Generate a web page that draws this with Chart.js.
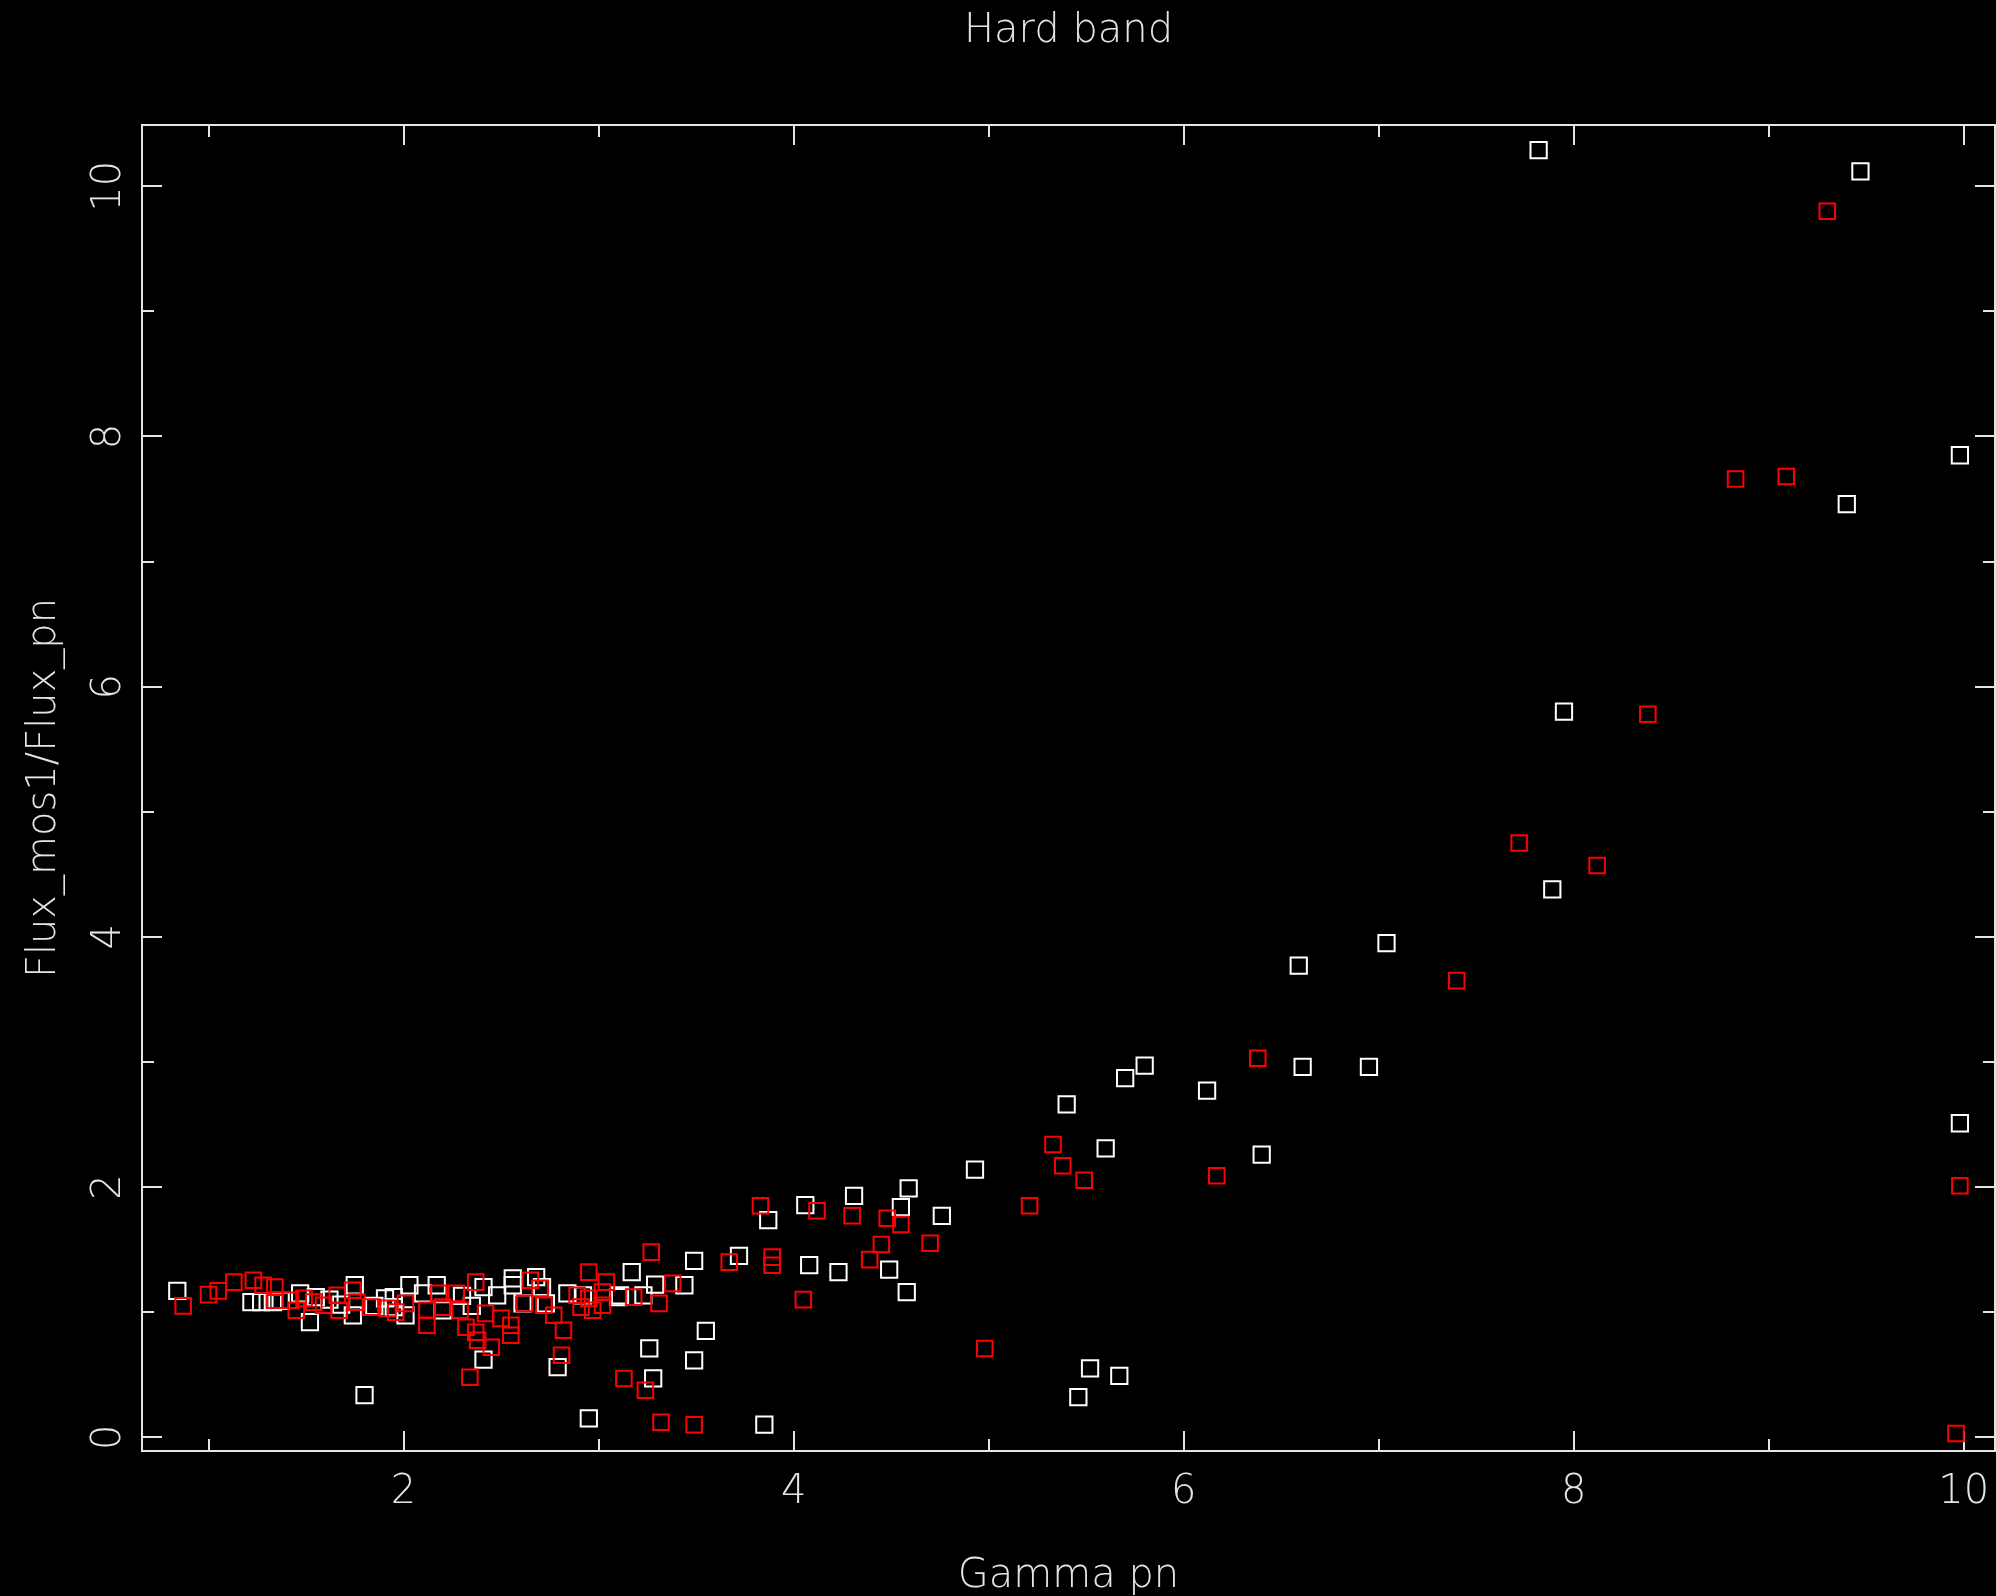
<!DOCTYPE html>
<html>
<head>
<meta charset="utf-8">
<title>Hard band</title>
<script src="https://cdn.jsdelivr.net/npm/chart.js@4.4.1/dist/chart.umd.min.js"></script>
<style>
  html, body { margin: 0; padding: 0; background: #000; }
  #wrap { width: 1996px; height: 1596px; }
</style>
</head>
<body>
<div id="wrap"><canvas id="hardChart" width="1996" height="1596"></canvas></div>
<script>
// white squares
const whiteGamma = [
  7.82, 9.47, 9.40, 9.98, 7.95, 7.89, 7.04, 6.59, 6.61, 6.95,
  5.80, 5.70, 6.12, 5.40, 6.40, 5.60, 9.98, 4.93, 4.59, 4.55,
  4.76, 4.31, 4.06, 3.87, 4.08, 4.23, 4.49, 4.58, 3.49, 3.72,
  3.44, 3.29, 3.17, 3.10, 3.23, 3.55, 3.49, 3.26, 3.28, 2.95,
  3.85, 5.46, 5.52, 5.67, 1.80, 2.41, 2.79,
  0.84, 1.22, 1.27, 1.33, 1.37, 1.47, 1.52, 1.75, 1.905, 1.74,
  1.95, 2.03, 2.17, 2.01, 1.95, 2.10, 2.20, 2.41, 2.48, 2.56,
  2.56, 2.68, 2.61, 2.71, 2.73, 2.84, 2.92, 3.11, 1.55, 1.62,
  1.68, 1.85, 2.30, 2.35
];
const whiteRatio = [
  10.29, 10.12, 7.46, 7.85, 5.80, 4.38, 3.95, 3.77, 2.96, 2.96,
  2.97, 2.87, 2.77, 2.66, 2.26, 2.31, 2.51, 2.14, 1.99, 1.84,
  1.77, 1.93, 1.855, 1.735, 1.375, 1.32, 1.34, 1.16, 1.41, 1.45,
  1.215, 1.22, 1.32, 1.12, 1.135, 0.85, 0.615, 0.71, 0.47, 0.15,
  0.10, 0.32, 0.55, 0.49, 0.336, 0.62, 0.56,
  1.17, 1.08, 1.08, 1.08, 1.09, 1.15, 0.92, 1.215, 1.11, 0.975,
  1.04, 1.215, 1.215, 0.975, 1.12, 1.15, 1.015, 1.20, 1.135, 1.27,
  1.215, 1.28, 1.07, 1.20, 1.07, 1.15, 1.135, 1.135, 1.12, 1.10,
  1.06, 1.05, 1.13, 1.05
];

// red squares
const redGamma = [
  9.30, 8.83, 9.09, 8.38, 8.12, 7.72, 7.40, 6.38, 6.17, 5.33,
  5.38, 5.49, 5.21, 4.98, 9.98, 9.96, 4.70, 4.55, 4.48, 4.45,
  4.39, 4.30, 4.12, 4.05, 3.83, 3.89, 3.89, 3.67, 3.27, 3.38,
  3.31, 3.18, 3.13, 3.24, 3.32, 3.49, 2.34,
  0.87, 1.00, 1.05, 1.13, 1.23, 1.28, 1.34, 1.34, 1.42, 1.45,
  1.49, 1.54, 1.59, 1.66, 1.67, 1.74, 1.76, 1.83, 1.92, 1.96,
  2.01, 2.12, 2.12, 2.18, 2.20, 2.27, 2.29, 2.37, 2.32, 2.37,
  2.42, 2.38, 2.45, 2.50, 2.55, 2.55, 2.65, 2.70, 2.62, 2.72,
  2.77, 2.82, 2.81, 2.95, 3.04, 2.89, 2.95, 2.91, 2.97, 3.02,
  3.02
];
const redRatio = [
  9.80, 7.66, 7.68, 5.78, 4.57, 4.75, 3.65, 3.03, 2.09, 2.34,
  2.17, 2.055, 1.85, 0.71, 2.01, 0.03, 1.55, 1.70, 1.75, 1.54,
  1.42, 1.77, 1.81, 1.10, 1.85, 1.44, 1.375, 1.40, 1.48, 1.23,
  1.07, 1.12, 0.47, 0.375, 0.12, 0.10, 0.48,
  1.05, 1.14, 1.17, 1.24, 1.255, 1.215, 1.20, 1.095, 1.095, 1.015,
  1.11, 1.08, 1.055, 1.135, 1.015, 1.175, 1.08, 1.04, 1.03, 1.00,
  1.07, 1.015, 0.895, 1.15, 1.04, 1.15, 1.015, 1.24, 0.88, 0.84,
  0.99, 0.776, 0.72, 0.95, 0.895, 0.815, 1.255, 1.19, 1.07, 1.055,
  0.975, 0.855, 0.655, 1.32, 1.24, 1.135, 1.11, 1.04, 1.015, 1.16,
  1.055
];

const xMajorTicks = [2, 4, 6, 8, 10];
const xMinorTicks = [1, 3, 5, 7, 9];
const yMajorTicks = [0, 2, 4, 6, 8, 10];
const yMinorTicks = [1, 3, 5, 7, 9];
const xRange = [0.659, 10.16];
const yRange = [-0.11, 10.49];

const inkColor = '#e4e4e4';
const labelFont = { family: "'DejaVu Sans', sans-serif", size: 40, weight: '200' };

function toPoints(xs, ys) {
  return xs.map((v, i) => ({ x: v, y: ys[i] }));
}

// keep chart.js from shrinking the plot for label overhang
function noPad(s) {
  s.paddingLeft = 0;
  s.paddingRight = 0;
  s.paddingTop = 0;
  s.paddingBottom = 0;
}

// black page, box round the plot and inward ticks on all four sides
const frameAndTicks = {
  id: 'frameAndTicks',
  beforeDraw(chart) {
    const ctx = chart.ctx;
    ctx.save();
    ctx.fillStyle = '#000';
    ctx.fillRect(0, 0, chart.width, chart.height);
    ctx.restore();
  },
  beforeDatasetsDraw(chart) {
    const { ctx, chartArea: a, scales: { x, y } } = chart;
    ctx.save();
    ctx.strokeStyle = inkColor;
    ctx.lineWidth = 2;
    ctx.strokeRect(a.left, a.top, a.right - a.left, a.bottom - a.top);

    function seg(x1, y1, x2, y2) {
      ctx.beginPath();
      ctx.moveTo(x1, y1);
      ctx.lineTo(x2, y2);
      ctx.stroke();
    }
    function xTicks(values, len) {
      values.forEach(v => {
        const px = Math.round(x.getPixelForValue(v));
        seg(px, a.bottom, px, a.bottom - len);
        seg(px, a.top, px, a.top + len);
      });
    }
    function yTicks(values, len) {
      values.forEach(v => {
        const py = Math.round(y.getPixelForValue(v));
        seg(a.left, py, a.left + len, py);
        seg(a.right, py, a.right - len, py);
      });
    }
    xTicks(xMajorTicks, 20);
    xTicks(xMinorTicks, 12);
    yTicks(yMajorTicks, 20);
    yTicks(yMinorTicks, 12);
    ctx.restore();
  }
};

new Chart(document.getElementById('hardChart'), {
  type: 'scatter',
  data: {
    datasets: [
      {
        label: 'white',
        data: toPoints(whiteGamma, whiteRatio),
        pointStyle: 'rect',
        pointRadius: 11.5,
        borderColor: '#ffffff',
        backgroundColor: 'rgba(0,0,0,0)',
        borderWidth: 2,
        order: 2
      },
      {
        label: 'red',
        data: toPoints(redGamma, redRatio),
        pointStyle: 'rect',
        pointRadius: 11,
        borderColor: '#ff0000',
        backgroundColor: 'rgba(0,0,0,0)',
        borderWidth: 2,
        order: 1
      }
    ]
  },
  options: {
    responsive: false,
    animation: false,
    layout: { padding: { left: 0, right: 1, top: 0, bottom: 0 }, autoPadding: false },
    plugins: {
      legend: { display: false },
      tooltip: { enabled: false }
    },
    scales: {
      // top axis only carries the plot title, centred over the plot box
      x2: {
        type: 'linear',
        position: 'top',
        min: xRange[0],
        max: xRange[1],
        afterFit: s => { s.height = 125; noPad(s); },
        grid: { display: false, drawTicks: false },
        border: { display: false },
        ticks: { display: false },
        title: {
          display: true,
          text: 'Hard band',
          color: inkColor,
          font: labelFont,
          padding: { top: 8, bottom: 0 }
        }
      },
      x: {
        type: 'linear',
        position: 'bottom',
        min: xRange[0],
        max: xRange[1],
        afterBuildTicks: s => { s.ticks = xMajorTicks.map(v => ({ value: v })); },
        afterFit: s => { s.height = 145; noPad(s); },
        grid: { display: false, drawTicks: false },
        border: { display: false },
        ticks: {
          color: inkColor,
          font: labelFont,
          padding: 18,
          autoSkip: false,
          maxRotation: 0,
          callback: v => String(v)
        },
        title: {
          display: true,
          text: 'Gamma pn',
          color: inkColor,
          font: labelFont,
          padding: { top: 0, bottom: -5 }
        }
      },
      y: {
        type: 'linear',
        position: 'left',
        min: yRange[0],
        max: yRange[1],
        afterBuildTicks: s => { s.ticks = yMajorTicks.map(v => ({ value: v })); },
        afterFit: s => { s.width = 142; noPad(s); },
        grid: { display: false, drawTicks: false },
        border: { display: false },
        ticks: {
          color: inkColor,
          font: labelFont,
          padding: 7,
          autoSkip: false,
          minRotation: 90,
          maxRotation: 90,
          crossAlign: 'center',
          callback: v => String(v)
        },
        title: {
          display: true,
          text: 'Flux_mos1/Flux_pn',
          color: inkColor,
          font: labelFont,
          padding: { top: 21, bottom: 0 }
        }
      }
    }
  },
  plugins: [frameAndTicks]
});
</script>
</body>
</html>
